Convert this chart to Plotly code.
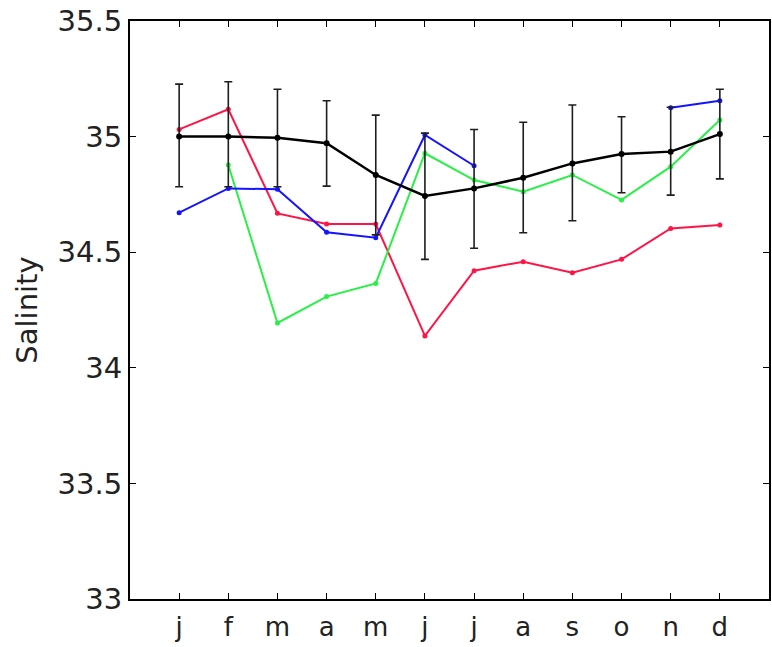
import plotly.graph_objects as go

month_pos = [1, 2, 3, 4, 5, 6, 7, 8, 9, 10, 11, 12]
month_labels = ["j", "f", "m", "a", "m", "j", "j", "a", "s", "o", "n", "d"]

mean_vals = [35.00, 35.00, 34.995, 34.971, 34.834, 34.743, 34.776, 34.822, 34.884, 34.925, 34.935, 35.011]
err_upper = [35.227, 35.237, 35.205, 35.155, 35.093, 35.015, 35.031, 35.062, 35.137, 35.086, 35.127, 35.205]
err_lower = [34.783, 34.783, 34.783, 34.786, 34.575, 34.469, 34.517, 34.584, 34.636, 34.757, 34.747, 34.817]

red_vals = [35.031, 35.118, 34.668, 34.622, 34.622, 34.138, 34.42, 34.459, 34.411, 34.469, 34.603, 34.618]
blue_vals = [34.671, 34.776, 34.772, 34.586, 34.563, 35.007, 34.874, None, None, None, 35.125, 35.155]
green_vals = [None, 34.877, 34.194, 34.308, 34.365, 34.928, 34.812, 34.762, 34.834, 34.726, 34.87, 35.072]

y_ticks = [33, 33.5, 34, 34.5, 35, 35.5]
y_tick_text = ["33", "33.5", "34", "34.5", "35", "35.5"]

fig = go.Figure()

def add_series(vals, color):
    fig.add_trace(go.Scatter(
        x=month_pos, y=vals, mode="lines+markers",
        line=dict(color=color, width=2),
        marker=dict(color=color, size=5),
        connectgaps=False, showlegend=False, hoverinfo="skip",
    ))

add_series(red_vals, "rgb(255,20,70)")
add_series(green_vals, "rgb(40,240,70)")
add_series(blue_vals, "rgb(20,20,255)")

fig.add_trace(go.Scatter(
    x=month_pos, y=mean_vals, mode="lines+markers",
    line=dict(color="black", width=2.5),
    marker=dict(color="black", size=6),
    error_y=dict(
        type="data", symmetric=False,
        array=[u - m for u, m in zip(err_upper, mean_vals)],
        arrayminus=[m - l for m, l in zip(mean_vals, err_lower)],
        color="rgb(30,30,30)", thickness=1.6, width=4,
    ),
    showlegend=False, hoverinfo="skip",
))

fig.update_layout(
    width=772, height=647,
    margin=dict(l=130, r=1, t=21, b=48),
    paper_bgcolor="white", plot_bgcolor="white",
    font=dict(family="DejaVu Sans, sans-serif", size=28, color="#222"),
)
fig.update_xaxes(
    range=[0, 13], tickvals=month_pos, ticktext=month_labels,
    showline=True, linecolor="black", linewidth=2, mirror="ticks",
    ticks="inside", ticklen=6, tickcolor="black", tickwidth=1,
    showgrid=False, zeroline=False, tickfont=dict(size=26),
    ticklabelstandoff=4,
)
fig.update_yaxes(
    range=[33, 35.5], tickvals=y_ticks, ticktext=y_tick_text,
    showline=True, linecolor="black", linewidth=2, mirror="ticks",
    ticks="inside", ticklen=6, tickcolor="black", tickwidth=1,
    showgrid=False, zeroline=False, tickfont=dict(size=29),
    title=dict(text="Salinity", font=dict(size=29), standoff=11),
)

fig.write_html("out.html", config={"displayModeBar": False},
               post_script="document.body.style.margin='0px';")
